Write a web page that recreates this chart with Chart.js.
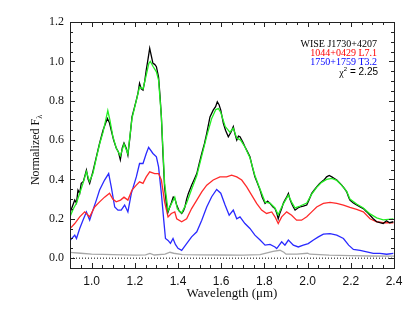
<!DOCTYPE html>
<html>
<head>
<meta charset="utf-8">
<script src="https://cdn.jsdelivr.net/npm/chart.js@4"></script>
<style>
  html, body { margin: 0; padding: 0; background: #fff; }
  #wrap { width: 415px; height: 312px; }
</style>
</head>
<body>
<div id="wrap"><canvas id="spec" width="415" height="312"></canvas></div>
<script>
// wavelength (um) and normalized flux
const wlWise = [0.900,0.910,0.922,0.930,0.937,0.945,0.952,0.962,0.976,0.984,0.991,1.006,1.022,1.037,1.053,1.063,1.073,1.082,1.091,1.102,1.114,1.124,1.133,1.142,1.150,1.160,1.168,1.178,1.187,1.197,1.207,1.215,1.222,1.230,1.238,1.246,1.253,1.261,1.269,1.276,1.284,1.292,1.300,1.310,1.317,1.323,1.330,1.338,1.346,1.354,1.362,1.369,1.378,1.386,1.394,1.405,1.417,1.425,1.432,1.440,1.448,1.463,1.475,1.487,1.498,1.510,1.522,1.533,1.548,1.563,1.574,1.582,1.590,1.598,1.610,1.620,1.633,1.645,1.656,1.664,1.672,1.680,1.687,1.700,1.710,1.722,1.733,1.745,1.756,1.768,1.780,1.790,1.803,1.815,1.826,1.840,1.849,1.857,1.864,1.872,1.880,1.888,1.895,1.903,1.911,1.918,1.926,1.934,1.942,1.955,1.965,1.980,1.996,2.008,2.019,2.030,2.042,2.055,2.065,2.078,2.088,2.100,2.112,2.124,2.135,2.146,2.158,2.170,2.181,2.190,2.196,2.212,2.227,2.243,2.258,2.274,2.289,2.304,2.320,2.335,2.350,2.365,2.380,2.397];
const fluxWise = [0.23,0.26,0.295,0.28,0.346,0.33,0.38,0.39,0.447,0.40,0.38,0.44,0.515,0.584,0.65,0.68,0.71,0.69,0.65,0.60,0.56,0.54,0.50,0.56,0.585,0.56,0.524,0.62,0.718,0.76,0.803,0.84,0.888,0.86,0.854,0.90,0.956,1.01,1.066,1.03,0.99,0.985,0.973,0.92,0.82,0.718,0.54,0.36,0.28,0.235,0.26,0.28,0.31,0.30,0.27,0.24,0.227,0.24,0.26,0.30,0.329,0.371,0.40,0.43,0.48,0.532,0.58,0.634,0.718,0.752,0.77,0.795,0.78,0.752,0.685,0.65,0.617,0.64,0.668,0.63,0.60,0.62,0.617,0.59,0.566,0.54,0.515,0.46,0.413,0.38,0.346,0.31,0.278,0.29,0.278,0.26,0.252,0.23,0.20,0.23,0.252,0.28,0.295,0.31,0.329,0.30,0.278,0.26,0.244,0.255,0.26,0.265,0.27,0.30,0.329,0.345,0.362,0.378,0.388,0.40,0.413,0.42,0.413,0.405,0.397,0.385,0.371,0.355,0.337,0.31,0.295,0.28,0.27,0.26,0.252,0.235,0.218,0.20,0.185,0.18,0.176,0.19,0.18,0.185];

const wlSum = [0.900,0.915,0.930,0.945,0.960,0.976,0.990,1.006,1.022,1.037,1.053,1.065,1.075,1.085,1.098,1.114,1.133,1.150,1.168,1.187,1.207,1.222,1.238,1.253,1.265,1.272,1.284,1.300,1.310,1.323,1.338,1.354,1.369,1.385,1.397,1.417,1.440,1.463,1.487,1.510,1.533,1.556,1.575,1.587,1.598,1.618,1.640,1.656,1.672,1.690,1.710,1.733,1.756,1.780,1.803,1.826,1.849,1.864,1.880,1.895,1.911,1.926,1.942,1.965,1.996,2.019,2.042,2.065,2.088,2.112,2.135,2.158,2.181,2.196,2.227,2.258,2.289,2.320,2.350,2.397];
const fluxSum = [0.21,0.25,0.28,0.33,0.38,0.44,0.39,0.43,0.51,0.58,0.64,0.70,0.75,0.70,0.62,0.56,0.52,0.58,0.53,0.71,0.80,0.87,0.86,0.93,0.99,1.00,0.975,0.947,0.905,0.72,0.38,0.24,0.275,0.31,0.25,0.23,0.28,0.35,0.42,0.52,0.62,0.71,0.755,0.76,0.74,0.67,0.64,0.66,0.61,0.60,0.565,0.51,0.42,0.35,0.285,0.28,0.255,0.22,0.26,0.29,0.32,0.285,0.255,0.265,0.28,0.325,0.36,0.385,0.40,0.405,0.395,0.37,0.34,0.30,0.275,0.255,0.225,0.205,0.195,0.20];

const wlL7 = [0.900,0.922,0.945,0.968,0.991,1.014,1.037,1.060,1.083,1.098,1.114,1.134,1.150,1.168,1.187,1.207,1.222,1.238,1.253,1.269,1.292,1.310,1.323,1.338,1.354,1.369,1.385,1.394,1.417,1.440,1.463,1.487,1.510,1.533,1.563,1.594,1.625,1.648,1.672,1.695,1.718,1.741,1.764,1.787,1.810,1.834,1.849,1.864,1.880,1.903,1.926,1.949,1.972,1.996,2.019,2.042,2.073,2.104,2.135,2.166,2.196,2.227,2.258,2.289,2.320,2.350,2.397];
const fluxL7 = [0.15,0.176,0.21,0.235,0.21,0.26,0.286,0.31,0.33,0.30,0.286,0.295,0.31,0.295,0.346,0.371,0.388,0.38,0.413,0.439,0.43,0.43,0.397,0.286,0.21,0.227,0.235,0.20,0.185,0.20,0.252,0.295,0.337,0.371,0.397,0.413,0.413,0.422,0.413,0.397,0.362,0.32,0.278,0.244,0.227,0.235,0.21,0.176,0.21,0.235,0.218,0.193,0.193,0.21,0.235,0.26,0.278,0.283,0.278,0.27,0.258,0.248,0.235,0.20,0.185,0.18,0.18];

const wlT3 = [0.900,0.922,0.930,0.945,0.960,0.976,0.991,1.006,1.022,1.037,1.060,1.079,1.091,1.107,1.122,1.137,1.153,1.168,1.184,1.207,1.222,1.238,1.253,1.264,1.284,1.300,1.310,1.323,1.334,1.342,1.354,1.365,1.377,1.388,1.400,1.417,1.440,1.463,1.487,1.510,1.533,1.556,1.579,1.598,1.618,1.637,1.656,1.672,1.687,1.710,1.733,1.756,1.780,1.803,1.826,1.849,1.857,1.880,1.895,1.911,1.934,1.957,1.980,2.003,2.027,2.050,2.073,2.104,2.135,2.166,2.190,2.212,2.243,2.274,2.304,2.335,2.366,2.397];
const fluxT3 = [0.09,0.117,0.10,0.151,0.193,0.235,0.193,0.244,0.295,0.346,0.397,0.43,0.362,0.26,0.244,0.244,0.27,0.235,0.329,0.413,0.481,0.481,0.532,0.563,0.532,0.515,0.464,0.329,0.193,0.10,0.09,0.075,0.10,0.07,0.05,0.04,0.074,0.108,0.134,0.193,0.26,0.312,0.349,0.33,0.27,0.218,0.244,0.20,0.21,0.176,0.151,0.117,0.092,0.066,0.07,0.057,0.049,0.083,0.066,0.092,0.066,0.057,0.066,0.074,0.092,0.108,0.122,0.125,0.117,0.10,0.066,0.044,0.04,0.032,0.024,0.024,0.02,0.024];

const wlNoise = [0.900,0.950,1.000,1.100,1.200,1.250,1.270,1.290,1.340,1.363,1.380,1.420,1.500,1.600,1.700,1.780,1.840,1.872,1.890,1.900,1.950,2.000,2.010,2.100,2.200,2.300,2.400];
const fluxNoise = [0.029,0.025,0.020,0.018,0.015,0.017,0.024,0.016,0.020,0.030,0.025,0.018,0.017,0.016,0.015,0.018,0.035,0.040,0.030,0.020,0.020,0.025,0.020,0.015,0.013,0.011,0.010];

const xTicks = [1.0, 1.2, 1.4, 1.6, 1.8, 2.0, 2.2, 2.4];
const yTicks = [0.0, 0.2, 0.4, 0.6, 0.8, 1.0, 1.2];

const labelLines = [
  { text: "WISE J1730+4207", color: "#000000" },
  { text: "1044+0429 L7.1", color: "#ff0000" },
  { text: "1750+1759 T3.2", color: "#0000ff" },
];
const chi2 = "2.25";

const pts = (xs, ys) => xs.map((x, i) => ({ x: x, y: ys[i] }));

const serif = "'Liberation Serif', 'Times New Roman', serif";
const sans = "'Liberation Sans', Arial, sans-serif";

function line(data, color, extra) {
  return Object.assign({
    data: data,
    borderColor: color,
    borderWidth: 1.3,
    pointRadius: 0,
    tension: 0,
    fill: false,
  }, extra || {});
}

// inward ticks on all four sides + frame, like the IDL plot
const frameTicks = {
  id: "frameTicks",
  afterDatasetsDraw(chart) {
    const { ctx, chartArea: a, scales } = chart;
    ctx.save();
    ctx.strokeStyle = "#222";
    ctx.lineWidth = 1;
    ctx.beginPath();
    for (let i = 0; i <= 30; i++) {
      const v = 0.9 + i * 0.05;
      const px = Math.round(scales.x.getPixelForValue(v)) + 0.5;
      const r = Math.round(v * 100);
      const len = r % 20 === 0 ? 5 : 3;
      ctx.moveTo(px, a.bottom); ctx.lineTo(px, a.bottom - len);
      ctx.moveTo(px, a.top); ctx.lineTo(px, a.top + len);
    }
    for (let i = 0; i <= 25; i++) {
      const v = -0.05 + i * 0.05;
      const py = Math.round(scales.y.getPixelForValue(v)) + 0.5;
      const r = Math.round(v * 100);
      const len = r % 20 === 0 ? 5 : 3;
      ctx.moveTo(a.left, py); ctx.lineTo(a.left + len, py);
      ctx.moveTo(a.right, py); ctx.lineTo(a.right - len, py);
    }
    ctx.stroke();
    ctx.strokeRect(Math.round(a.left) + 0.5, Math.round(a.top) + 0.5,
      Math.round(a.right - a.left), Math.round(a.bottom - a.top));

    // axis titles
    ctx.fillStyle = "#111";
    ctx.font = "13px " + serif;
    ctx.textAlign = "center";
    ctx.textBaseline = "middle";
    ctx.fillText("Wavelength (\u03bcm)", (a.left + a.right) / 2, 294);

    ctx.save();
    ctx.translate(35, 150);
    ctx.rotate(-Math.PI / 2);
    ctx.font = "12px " + serif;
    const t = "Normalized F";
    const w1 = ctx.measureText(t).width;
    ctx.font = "8px " + serif;
    const w2 = ctx.measureText("\u03bb").width;
    const x0 = -(w1 + w2) / 2;
    ctx.textAlign = "left";
    ctx.textBaseline = "alphabetic";
    ctx.font = "12px " + serif;
    ctx.fillText(t, x0, 4);
    ctx.font = "8px " + serif;
    ctx.fillText("\u03bb", x0 + w1, 7);
    ctx.restore();

    // labels in the upper right
    ctx.textAlign = "right";
    ctx.textBaseline = "middle";
    ctx.font = "10px " + serif;
    labelLines.forEach((l, i) => {
      ctx.fillStyle = l.color;
      ctx.fillText(l.text, 377, 44 + i * 9.3);
    });
    ctx.fillStyle = "#000";
    ctx.font = "10px " + sans;
    const eq = " = " + chi2;
    const weq = ctx.measureText(eq).width;
    ctx.fillText(eq, 378, 72.5);
    ctx.font = "6px " + sans;
    const wsup = ctx.measureText("2").width;
    ctx.fillText("2", 378 - weq, 69);
    ctx.font = "10px " + serif;
    ctx.fillText("\u03c7", 378 - weq - wsup, 73.5);
    ctx.restore();
  },
};

new Chart(document.getElementById("spec"), {
  type: "line",
  data: {
    datasets: [
      line(pts(wlSum, fluxSum), "#22ee22"),
      line(pts(wlWise, fluxWise), "#000000"),
      line(pts(wlL7, fluxL7), "#ff2a2a"),
      line(pts(wlT3, fluxT3), "#2a2aff"),
      line(pts(wlNoise, fluxNoise), "#a8a8a8"),
      line([{ x: 0.9, y: 0 }, { x: 2.4, y: 0 }], "#000000", { borderWidth: 1, borderDash: [1, 2] }),
    ],
  },
  options: {
    responsive: false,
    animation: false,
    events: [],
    layout: { padding: { left: 0, right: 21, top: 22, bottom: 0 } },
    plugins: { legend: { display: false }, tooltip: { enabled: false } },
    scales: {
      x: {
        type: "linear",
        min: 0.9,
        max: 2.4,
        grid: { display: false, drawTicks: false },
        border: { display: false },
        afterBuildTicks: (s) => { s.ticks = xTicks.map((v) => ({ value: v })); },
        afterFit: (s) => { s.height = 44; },
        ticks: {
          autoSkip: false,
          maxRotation: 0,
          padding: 6,
          color: "#111",
          font: { family: sans, size: 12 },
          callback: (v) => Number(v).toFixed(1),
        },
      },
      y: {
        type: "linear",
        min: -0.05,
        max: 1.2,
        grid: { display: false, drawTicks: false },
        border: { display: false },
        afterBuildTicks: (s) => { s.ticks = yTicks.map((v) => ({ value: v })); },
        afterFit: (s) => { s.width = 70; },
        ticks: {
          autoSkip: false,
          padding: 6,
          color: "#111",
          font: { family: serif, size: 12 },
          callback: (v) => Number(v).toFixed(1),
        },
      },
    },
  },
  plugins: [frameTicks],
});
</script>
</body>
</html>
